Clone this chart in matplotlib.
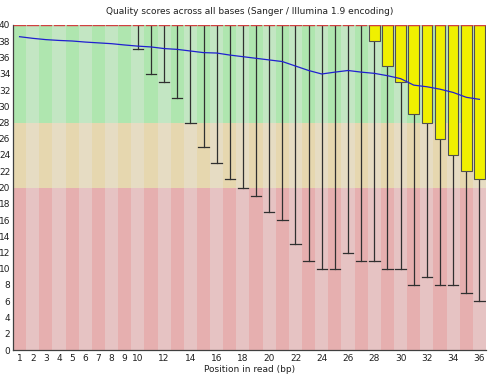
import matplotlib
matplotlib.use("Agg")
import matplotlib.pyplot as plt
import numpy as np

positions = list(range(1, 37))
median = [40] * 36
upper_quartile = [40] * 36
lower_quartile = [40] * 27 + [38, 35, 33, 29, 28, 26, 24, 22, 21]
upper_whisker = [40] * 36
lower_whisker = [40] * 9 + [37, 34, 33, 31, 28, 25, 23, 21, 20,
                            19, 17, 16, 13, 11, 10, 10, 12, 11,
                            11, 10, 10, 8, 9, 8, 8, 7, 6]
mean = [38.56, 38.36, 38.2, 38.1, 38.03, 37.9, 37.8, 37.7, 37.54, 37.4,
        37.3, 37.1, 37.0, 36.8, 36.6, 36.55, 36.3, 36.1, 35.9, 35.7,
        35.5, 34.95, 34.4, 33.97, 34.2, 34.4, 34.2, 34.05, 33.76, 33.4,
        32.6, 32.4, 32.1, 31.7, 31.1, 30.85]
x_tick_labels = [str(i) for i in range(1, 11)] + [str(i) for i in range(12, 37, 2)]
x_tick_pos = list(range(1, 11)) + list(range(12, 37, 2))
y_ticks = list(range(0, 41, 2))

fig = plt.figure(figsize=(5, 3.75), dpi=100)
ax = fig.add_axes([13 / 500, 25 / 375, 473 / 500, 325 / 375])

zones = [(0, 20, '#e6afaf', '#e6c3c3'),
         (20, 28, '#e6d7af', '#e6dcc3'),
         (28, 40, '#afe6af', '#c3e6c3')]
for lo, hi, dark, light in zones:
    cols = [dark if p % 2 == 1 else light for p in positions]
    ax.bar(positions, hi - lo, bottom=lo, width=1.0, color=cols, linewidth=0, zorder=0)

bw = 0.8
for p, q1, q3, lw, uw, md in zip(positions, lower_quartile, upper_quartile,
                                 lower_whisker, upper_whisker, median):
    if lw < q1:
        ax.plot([p, p], [lw, q1], color='#303030', lw=0.9, zorder=2)
        ax.plot([p - bw / 2, p + bw / 2], [lw, lw], color='#303030', lw=0.9, zorder=2)
    if q3 > q1:
        ax.bar(p, q3 - q1, bottom=q1, width=bw, color='#f0f000',
               edgecolor='#505050', linewidth=0.8, zorder=3)
    ax.plot([p - bw / 2, p + bw / 2], [md, md], color='#d04040', lw=1.0, zorder=4)

ax.plot(positions, mean, color='#2020d0', lw=0.9, zorder=5)

ax.set_xlim(0.5, 36.5)
ax.set_ylim(0, 40)
ax.set_xticks(x_tick_pos)
ax.set_xticklabels(x_tick_labels)
ax.set_yticks(y_ticks)
ax.tick_params(length=0, labelsize=6.5, colors='#202020')
ax.tick_params(axis='x', pad=3)
ax.tick_params(axis='y', pad=2)
for s in ['top', 'right']:
    ax.spines[s].set_visible(False)
for s in ['left', 'bottom']:
    ax.spines[s].set_color('#404040')
    ax.spines[s].set_linewidth(0.9)

fig.text(0.5, 1 - 11 / 375, 'Quality scores across all bases (Sanger / Illumina 1.9 encoding)',
         ha='center', va='center', fontsize=6.5, color='#202020')
fig.text(0.5, 1 - 369 / 375, 'Position in read (bp)', ha='center', va='center',
         fontsize=6.5, color='#202020')

fig.savefig('out.png', dpi=100)
